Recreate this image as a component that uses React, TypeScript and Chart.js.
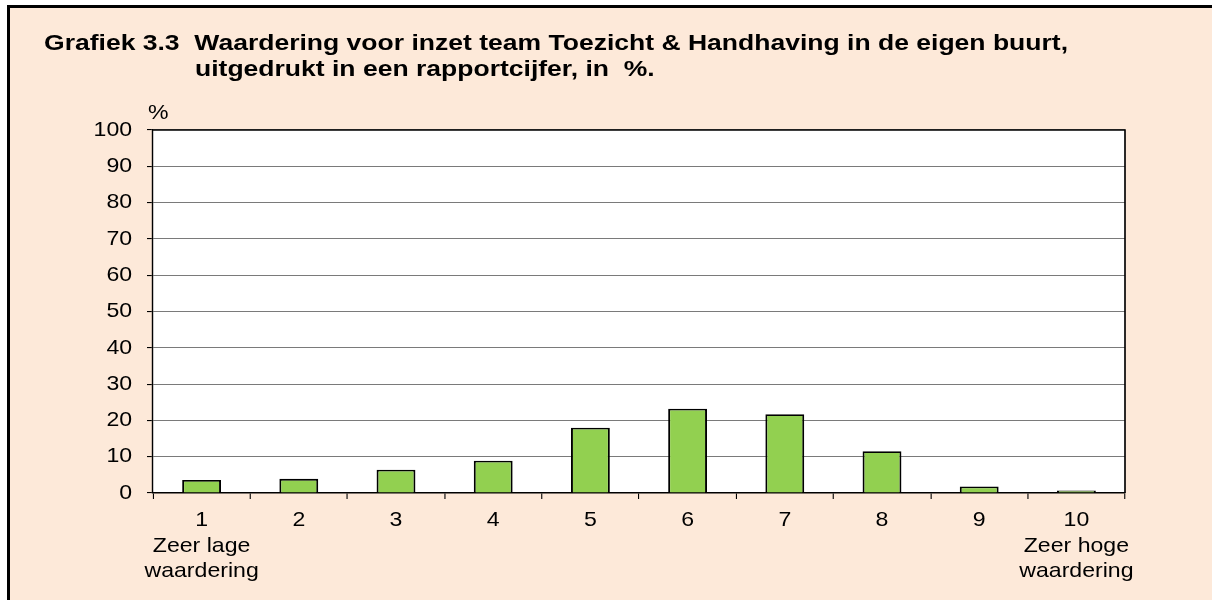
import React, { useEffect, useRef } from "react";
import { Chart, registerables } from "chart.js";

Chart.register(...registerables);

const categories: string[][] = [
  ["1", "Zeer lage", "waardering"],
  ["2"],
  ["3"],
  ["4"],
  ["5"],
  ["6"],
  ["7"],
  ["8"],
  ["9"],
  ["10", "Zeer hoge", "waardering"],
];
const values: number[] = [3.6, 3.9, 6.4, 8.9, 18.0, 23.2, 21.7, 11.5, 1.8, 0.7];
const yMin = 0;
const yMax = 100;
const yStep = 10;

const titleLine1 = "Grafiek 3.3  Waardering voor inzet team Toezicht & Handhaving in de eigen buurt,";
const titleLine2 = "uitgedrukt in een rapportcijfer, in  %.";
const yUnit = "%";

const SX = 1.1; // horizontal stretch of the original rendering
const FONT = "'Liberation Sans', Arial, sans-serif";

export default function App() {
  const canvasRef = useRef<HTMLCanvasElement | null>(null);
  const t1Ref = useRef<HTMLSpanElement | null>(null);
  const t2Ref = useRef<HTMLSpanElement | null>(null);

  useEffect(() => {
    const t1 = t1Ref.current;
    const t2 = t2Ref.current;
    if (t1 && t2) {
      const w = t1.getBoundingClientRect().width;
      const s = w > 0 ? 1024 / w : 1.12;
      t1.style.transform = `scaleX(${s})`;
      t2.style.transform = `scaleX(${s})`;
    }

    const canvas = canvasRef.current;
    if (!canvas) return;

    const stretch = {
      id: "stretch",
      beforeDraw(chart: any) {
        const ctx = chart.ctx;
        ctx.save();
        ctx.setTransform(SX, 0, 0, 1, 0, 0);
        const a = chart.chartArea;
        ctx.fillStyle = "#ffffff";
        ctx.fillRect(a.left, a.top, a.right - a.left, a.bottom - a.top);
      },
      afterDatasetsDraw(chart: any) {
        const ctx = chart.ctx;
        const a = chart.chartArea;
        ctx.save();
        ctx.strokeStyle = "#000000";
        ctx.lineWidth = 1.5;
        ctx.beginPath();
        ctx.moveTo(a.left, a.top);
        ctx.lineTo(a.right, a.top);
        ctx.lineTo(a.right, a.bottom);
        ctx.stroke();
        ctx.restore();
      },
      afterDraw(chart: any) {
        chart.ctx.restore();
      },
    };

    const chart = new Chart(canvas, {
      type: "bar",
      data: {
        labels: categories,
        datasets: [
          {
            data: values,
            backgroundColor: "#92D050",
            borderColor: "#000000",
            borderWidth: 1.8,
            categoryPercentage: 1,
            barPercentage: 0.4,
          },
        ],
      },
      options: {
        responsive: false,
        animation: false,
        devicePixelRatio: 1,
        layout: {
          padding: { left: 0, top: 130, right: 1212 - 1125 / SX, bottom: 0 },
        },
        plugins: {
          legend: { display: false },
          title: { display: false },
          tooltip: { enabled: false },
        },
        scales: {
          x: {
            offset: true,
            grid: {
              offset: true,
              drawOnChartArea: false,
              drawTicks: true,
              tickLength: 6,
              tickColor: "#000000",
              lineWidth: 1,
            },
            border: { color: "#000000", width: 1.5 },
            ticks: {
              color: "#000000",
              font: { family: FONT, size: 21, lineHeight: 1.2 },
              padding: 9,
              maxRotation: 0,
              minRotation: 0,
              autoSkip: false,
            },
            afterFit(scale: any) {
              scale.height = 600 - 493;
            },
          },
          y: {
            min: yMin,
            max: yMax,
            grid: {
              color: "#7A7A7A",
              lineWidth: 1.1,
              drawTicks: true,
              tickLength: 6 / SX,
              tickColor: "#000000",
            },
            border: { color: "#000000", width: 1.3 },
            ticks: {
              stepSize: yStep,
              color: "#000000",
              font: { family: FONT, size: 21 },
              padding: 13.5,
            },
            afterFit(scale: any) {
              scale.width = 153 / SX;
            },
          },
        },
      },
      plugins: [stretch],
    });

    return () => {
      chart.destroy();
    };
  }, []);

  const lineStyle: React.CSSProperties = {
    position: "absolute",
    whiteSpace: "pre",
    fontFamily: FONT,
    fontWeight: "bold",
    fontSize: 22,
    lineHeight: "26px",
    color: "#000",
    transformOrigin: "0 0",
    display: "inline-block",
  };

  return (
    <div
      style={{
        position: "fixed",
        left: 0,
        top: 0,
        width: 1212,
        height: 600,
        background: "#ffffff",
        overflow: "hidden",
      }}
    >
      <div
        style={{
          position: "absolute",
          left: 7,
          top: 5,
          width: 1212 - 7,
          height: 600 - 5,
          boxSizing: "border-box",
          borderTop: "3px solid #000",
          borderLeft: "3px solid #000",
          background: "#FDE9D9",
        }}
      />
      <canvas
        ref={canvasRef}
        width={1212}
        height={600}
        style={{ position: "absolute", left: 0, top: 0, width: 1212, height: 600 }}
      />
      <span ref={t1Ref} style={{ ...lineStyle, left: 44, top: 30 }}>
        {titleLine1}
      </span>
      <span ref={t2Ref} style={{ ...lineStyle, left: 195, top: 56 }}>
        {titleLine2}
      </span>
      <span
        style={{
          position: "absolute",
          left: 148,
          top: 101,
          fontFamily: FONT,
          fontSize: 21,
          lineHeight: "21px",
          color: "#000",
          transform: `scaleX(${SX})`,
          transformOrigin: "0 0",
          whiteSpace: "pre",
        }}
      >
        {yUnit}
      </span>
    </div>
  );
}
